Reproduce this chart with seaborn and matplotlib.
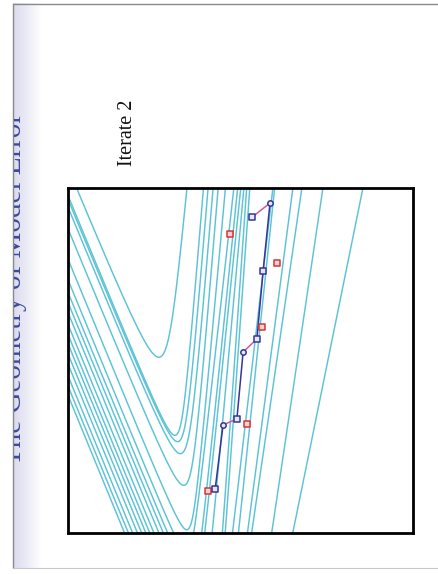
import numpy as np
import pandas as pd
import matplotlib
matplotlib.use("Agg")
import matplotlib.pyplot as plt
import seaborn as sns
from matplotlib.patches import Rectangle
from matplotlib.colors import LinearSegmentedColormap

sns.set_theme(style="white")
plt.rcParams['font.family'] = ['Liberation Serif', 'DejaVu Serif']

# ---------------- data (axes fractions) ----------------
# contour levels, inner -> outer
left_slope = -0.41          # dX/dY of the left asymptotes
left_a = [0.430, 0.400, 0.395, 0.385, 0.360, 0.325,
          0.301, 0.286, 0.274, 0.262, 0.248, 0.236, 0.225, 0.213, 0.201, 0.187, 0.175, 0.164]
right_bottom = [0.262, 0.316, 0.330, 0.345, 0.359, 0.369,
                0.372, 0.393, 0.401, 0.422, 0.451, 0.459, 0.480, 0.497, 0.523, 0.535, 0.593, 0.654]
right_top = [0.352, 0.396, 0.410, 0.425, 0.439, 0.459,
             0.483, 0.494, 0.503, 0.512, 0.520, 0.529, 0.596, 0.601, 0.654, 0.680, 0.741, 0.857]
roundness = [0.043, 0.027, 0.032, 0.036, 0.033, 0.024] + [0.02] * 12

# iterate path
path_x = [0.428, 0.451, 0.491, 0.509, 0.549, 0.567, 0.587, 0.535]
path_y = [0.126, 0.312, 0.329, 0.523, 0.561, 0.758, 0.955, 0.914]
blue_segments = [[0, 1], [2, 3], [4, 5, 6]]
pink_segments = [[1, 2], [3, 4], [6, 7]]
square_idx = [0, 2, 4, 5, 7]
circle_idx = [1, 3, 6]
# trial points
red_x = [0.407, 0.520, 0.564, 0.607, 0.471]
red_y = [0.120, 0.314, 0.596, 0.781, 0.865]

slide_title = "The Geometry of Model Error"
panel_title = "Iterate 2"

# ---------------- figure ----------------
W, H = 438, 574
fig = plt.figure(figsize=(W / 100, H / 100), dpi=100)
fig.patch.set_facecolor("white")

bg = fig.add_axes([0, 0, 1, 1], zorder=-5)
bg.set_xlim(0, W)
bg.set_ylim(H, 0)
bg.axis("off")
grad = LinearSegmentedColormap.from_list("g", ["#ffffff", "#dadaee"])
bg.imshow(np.linspace(0, 1, 64)[::-1][None, :], extent=[13, 42, 568, 3.5],
          cmap=grad, aspect="auto", interpolation="bicubic")
bg.plot([13, 13], [3.5, 568], color="#8a8a8a", lw=1.0)
bg.plot([13, W], [3.5, 3.5], color="#8a8a8a", lw=1.0)
bg.plot([13, W], [568, 568], color="#c8c8c8", lw=0.8)

t = bg.text(21.5, 289, slide_title, rotation=90, rotation_mode="anchor",
            ha="center", va="baseline", fontsize=21, color="#3a4a9e")
t.set_clip_path(Rectangle((13.6, 0), 500, H, transform=bg.transData))
t.set_clip_on(True)

bg.text(128, 133, panel_title, rotation=90, ha="center", va="center",
        fontsize=14.5, color="#111111")

ax = fig.add_axes([67.5 / W, (H - 532.5) / H, 345 / W, 345 / H])
ax.set_xlim(0, 1)
ax.set_ylim(0, 1)
ax.set_xticks([])
ax.set_yticks([])
for s in ax.spines.values():
    s.set_visible(True)
    s.set_color("black")
    s.set_linewidth(2.0)

# contour lines
g = np.linspace(-0.02, 1.02, 700)
Xg, Yg = np.meshgrid(g, g)
cyan = "#5cc3d6"
for a, rb, rt, r in zip(left_a, right_bottom, right_top, roundness):
    XL = a + left_slope * Yg
    XR = rb + (rt - rb) * Yg
    u = XL - Xg
    v = Xg - XR
    G = (u + v) / 2 + np.sqrt(((u - v) / 2) ** 2 + r ** 2)
    ax.contour(Xg, Yg, G, levels=[0], colors=[cyan], linewidths=1.05)

# iterate path
blue = "#35359c"
pink = "#d2589c"
for seg in blue_segments:
    d = pd.DataFrame({"x": [path_x[i] for i in seg], "y": [path_y[i] for i in seg]})
    sns.lineplot(data=d, x="x", y="y", sort=False, color=blue, lw=1.1, ax=ax, zorder=3)
for seg in pink_segments:
    d = pd.DataFrame({"x": [path_x[i] for i in seg], "y": [path_y[i] for i in seg]})
    sns.lineplot(data=d, x="x", y="y", sort=False, color=pink, lw=1.1, ax=ax, zorder=3)

sq = pd.DataFrame({"x": [path_x[i] for i in square_idx], "y": [path_y[i] for i in square_idx]})
ci = pd.DataFrame({"x": [path_x[i] for i in circle_idx], "y": [path_y[i] for i in circle_idx]})
rd = pd.DataFrame({"x": red_x, "y": red_y})
sns.scatterplot(data=rd, x="x", y="y", marker="s", s=19, facecolor="#f7d2d2",
                edgecolor="#d83434", linewidth=1.1, ax=ax, zorder=4)
sns.scatterplot(data=sq, x="x", y="y", marker="s", s=19, facecolor="#e6e8f7",
                edgecolor=blue, linewidth=1.1, ax=ax, zorder=5)
sns.scatterplot(data=ci, x="x", y="y", marker="o", s=15, facecolor="#e6e8f7",
                edgecolor=blue, linewidth=1.1, ax=ax, zorder=5)
ax.set_xlabel("")
ax.set_ylabel("")

fig.savefig("out.png", dpi=100)
